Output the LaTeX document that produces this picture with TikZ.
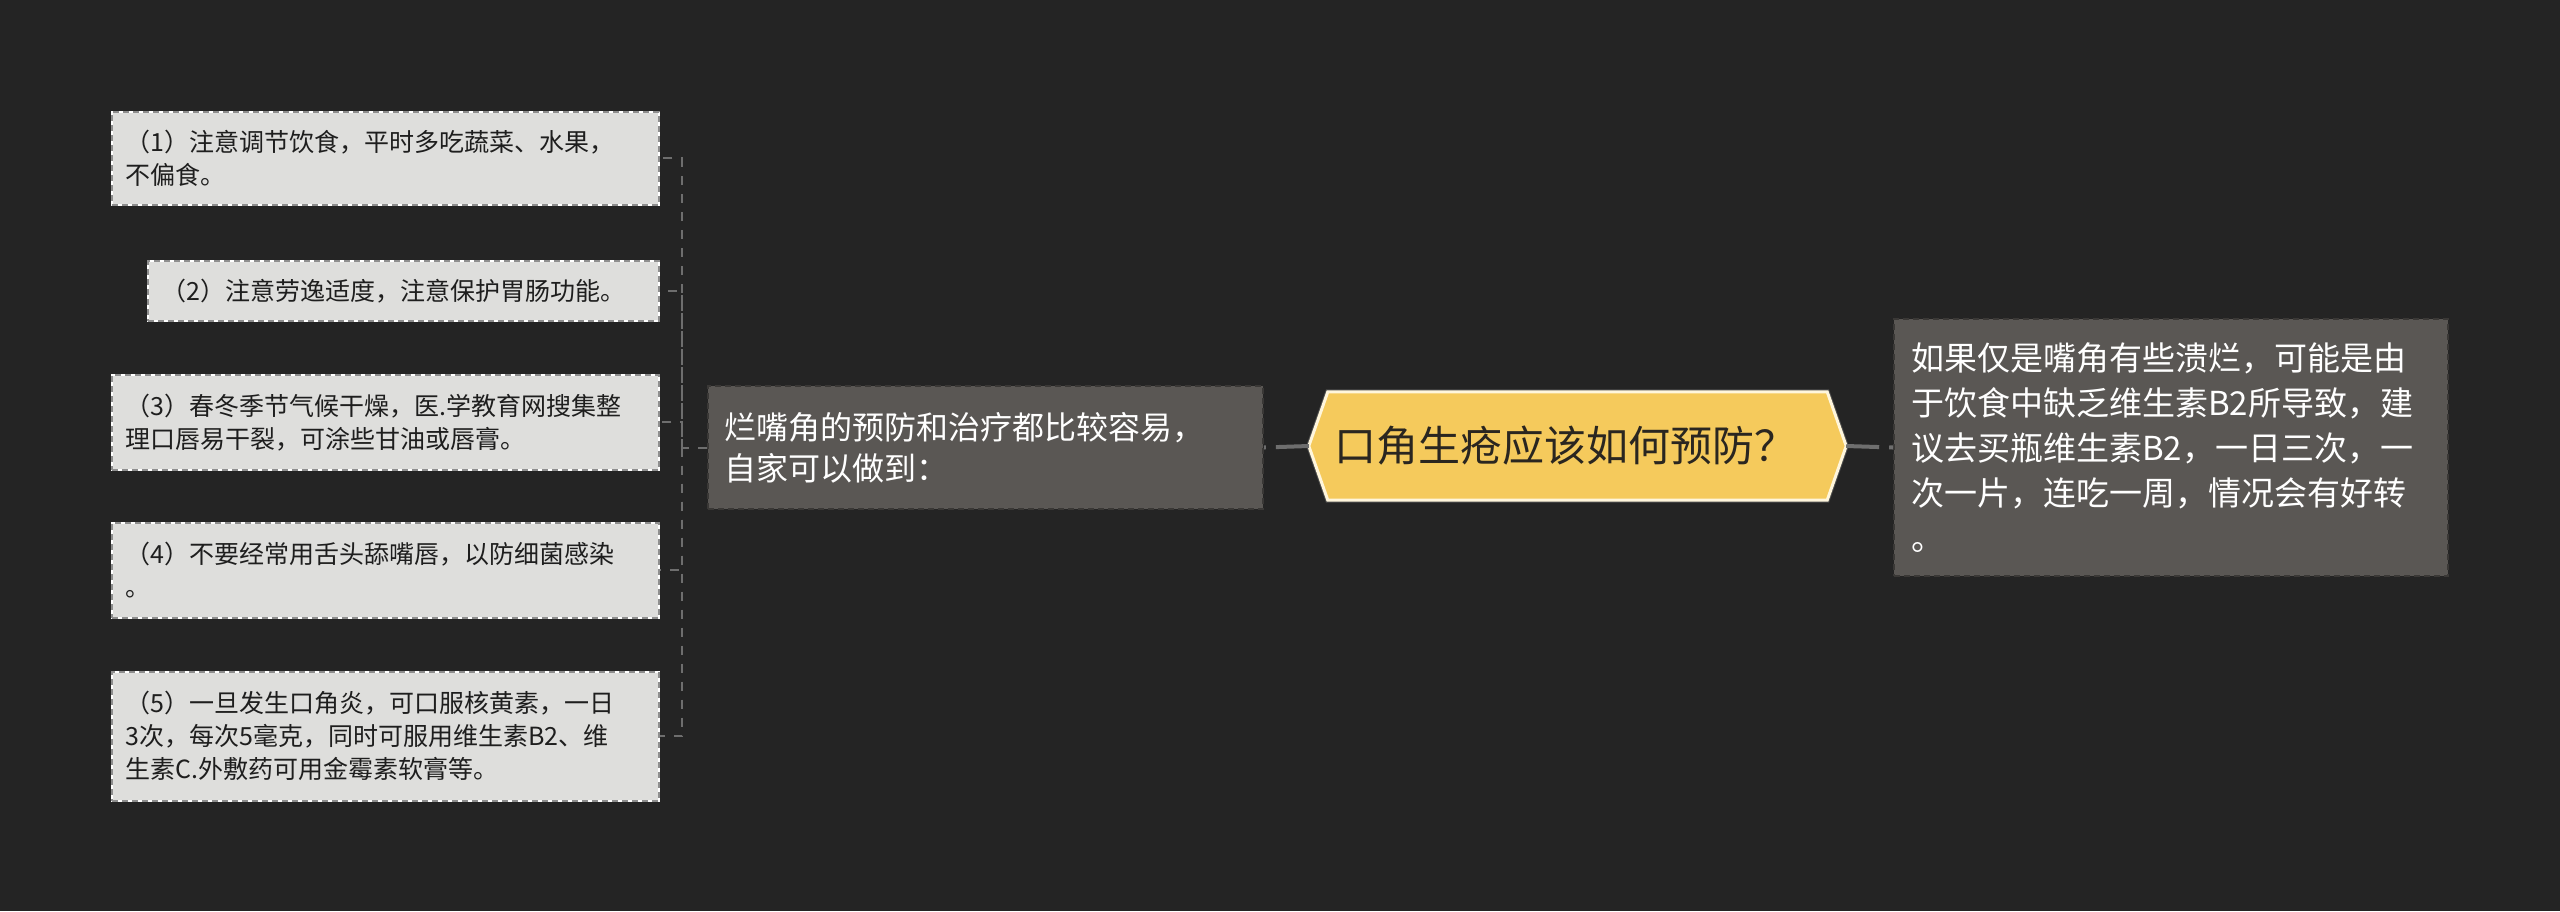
\documentclass[tikz,border=0pt]{standalone}
\usepackage{fontspec}
\setmainfont{Noto Sans CJK SC}
\usetikzlibrary{calc}
\definecolor{bg}{HTML}{242424}
\definecolor{leaffill}{HTML}{DEDEDC}
\definecolor{leafline}{HTML}{8E8E8E}
\definecolor{leaftext}{HTML}{1E1E1E}
\definecolor{midfill}{HTML}{5A5754}
\definecolor{midline}{HTML}{3A3836}
\definecolor{connline}{HTML}{6E6E6E}
\definecolor{rootfill}{HTML}{F5CA5C}
\definecolor{rootedge}{HTML}{FFF6DC}
\definecolor{roottext}{HTML}{2A2620}
\tikzset{
  leafbox/.style={draw=white, line width=1.5pt, fill=leaffill, anchor=north west,
    inner xsep=14pt, inner ysep=0pt, align=left, text=leaftext,
    font=\fontsize{25}{33}\selectfont,
    postaction={draw=leafline, dash pattern=on 6pt off 4pt, line width=1.5pt}},
  midbox/.style={fill=midfill, draw=midline, line width=2pt, dash pattern=on 6pt off 4pt,
    anchor=north west, inner xsep=16pt, inner ysep=0pt, align=left, text=white},
  conn/.style={draw=connline, line width=2pt, dash pattern=on 9pt off 9pt},
  rootconn/.style={draw=connline, line width=4pt, dash pattern=on 33pt off 10pt},
}
\begin{document}
\begin{tikzpicture}[x=1pt,y=-1pt]
\useasboundingbox[fill=bg] (0,0) rectangle (2560,911);

% leaf boxes
\node[leafbox, minimum width=547pt, minimum height=93pt, text width=519pt] (b1) at (111,111)
  {（1）注意调节饮食，平时多吃蔬菜、水果，\\不偏食。};
\node[leafbox, minimum width=511pt, minimum height=60pt, text width=483pt] (b2) at (147,260)
  {（2）注意劳逸适度，注意保护胃肠功能。};
\node[leafbox, minimum width=547pt, minimum height=95pt, text width=519pt] (b3) at (111,374)
  {（3）春冬季节气候干燥，医.学教育网搜集整\\理口唇易干裂，可涂些甘油或唇膏。};
\node[leafbox, minimum width=547pt, minimum height=95pt, text width=519pt] (b4) at (111,522)
  {（4）不要经常用舌头舔嘴唇，以防细菌感染\\。};
\node[leafbox, minimum width=547pt, minimum height=129pt, text width=519pt] (b5) at (111,671)
  {（5）一旦发生口角炎，可口服核黄素，一日\\3次，每次5毫克，同时可服用维生素B2、维\\生素C.外敷药可用金霉素软膏等。};

% middle node
\node[midbox, minimum width=555pt, minimum height=123pt, text width=523pt,
  font=\fontsize{32}{41}\selectfont] (mid) at (707,385)
  {烂嘴角的预防和治疗都比较容易，\\自家可以做到：};

% right node
\node[midbox, minimum width=554pt, minimum height=257pt, text width=520pt,
  font=\fontsize{33}{45}\selectfont] (right) at (1893,318)
  {如果仅是嘴角有些溃烂，可能是由\\于饮食中缺乏维生素B2所导致，建\\议去买瓶维生素B2，一日三次，一\\次一片，连吃一周，情况会有好转\\。};

% root hexagon
\node[minimum width=537pt, minimum height=108pt, inner sep=0pt] (root) at (1577.5,446) {};
\draw[fill=rootfill, draw=black!70, line width=5pt, line join=miter]
  (root.west) -- ([xshift=19pt]root.north west) -- ([xshift=-19pt]root.north east)
  -- (root.east) -- ([xshift=-19pt]root.south east) -- ([xshift=19pt]root.south west) -- cycle;
\draw[fill=rootfill, draw=rootedge, line width=3pt, line join=miter]
  (root.west) -- ([xshift=19pt]root.north west) -- ([xshift=-19pt]root.north east)
  -- (root.east) -- ([xshift=-19pt]root.south east) -- ([xshift=19pt]root.south west) -- cycle;
\node[text=roottext, font=\fontsize{42}{50}\selectfont, inner sep=0pt] (roottxt)
  at ([xshift=-12pt]root.center) {口角生疮应该如何预防？};

% connectors
\coordinate (bus) at (682,0);
\draw[rootconn, dash phase=0pt] (root.west) -- (mid.east);
\draw[rootconn] (root.east) -- (right.west);
\draw[conn] (mid.west) -- (mid.west -| bus) |- (b1.east);
\draw[conn] (mid.west -| bus) |- (b2.east);
\draw[conn] (mid.west -| bus) |- (b3.east);
\draw[conn] (mid.west -| bus) |- (b4.east);
\draw[conn] (mid.west -| bus) |- (b5.east);
\end{tikzpicture}
\end{document}
